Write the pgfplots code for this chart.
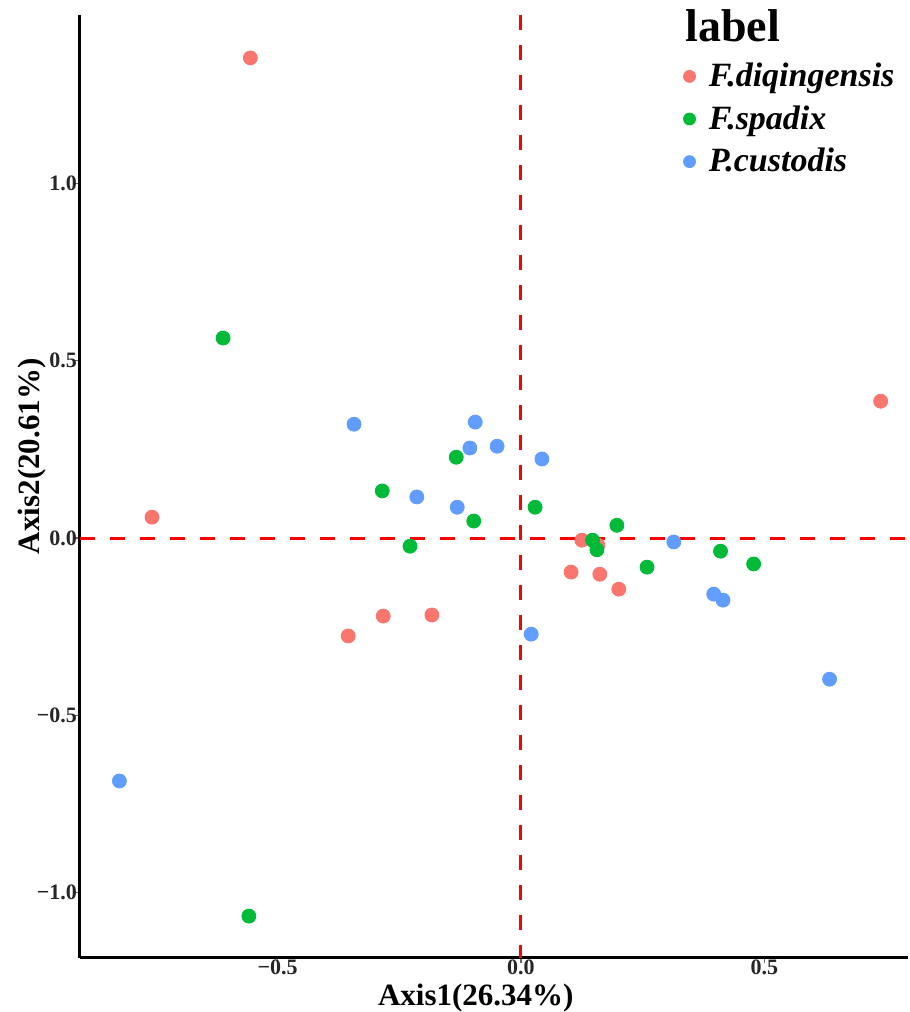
\documentclass[border=0pt]{standalone}
\usepackage{pgfplots}
\pgfplotsset{compat=1.18}
\usepackage{fontspec}
\setmainfont{Liberation Serif}

\definecolor{cred}{HTML}{F8766D}
\definecolor{cgreen}{HTML}{00BA38}
\definecolor{cblue}{HTML}{619CFF}

\begin{document}
\begin{tikzpicture}
\begin{axis}[
    name=ax,
    scale only axis,
    width=414pt, height=471.5pt,
    xmin=-0.906, xmax=0.795,
    ymin=-1.184, ymax=1.475,
    axis lines*=left,
    axis line style={line width=1.5pt, -},
    xtick={-0.5,0,0.5}, xticklabels={−0.5,0.0,0.5},
    ytick={-1,-0.5,0,0.5,1}, yticklabels={−1.0,−0.5,0.0,0.5,1.0},
    tick style={black!60, line width=0.6pt},
    tick align=outside, major tick length=2.5pt,
    ticklabel style={font=\fontsize{11}{12}\selectfont\bfseries, text=black!85},
    xticklabel style={yshift=5pt},
    yticklabel style={xshift=4.5pt},
    xlabel={Axis1(26.34\%)}, ylabel={Axis2(20.61\%)},
    label style={font=\fontsize{15.5}{16}\selectfont\bfseries, inner sep=0pt},
    xlabel style={at={(axis description cs:0.478,-0.0424)}, anchor=center},
    ylabel style={at={(axis description cs:-0.058,0.532)}, anchor=center},
    legend style={at={(rel axis cs:0.728,0.9536)}, anchor=north west, draw=none, fill=none,
        font=\fontsize{17}{19}\selectfont\bfseries\itshape, row sep=4pt,
        inner sep=0pt, nodes={inner xsep=2pt}},
    legend image code/.code={\fill (0.2cm,0cm) circle (3pt); \path (0.2cm+7.5pt,0cm);},
    legend cell align=left,
]
\addplot[red, line width=1.5pt, dash pattern=on 7.5pt off 7.5pt, forget plot] coordinates {(0,1.475) (0,-1.184)};
\addplot[red, line width=1.5pt, dash pattern=on 7.5pt off 7.5pt, forget plot] coordinates {(-0.906,0) (0.795,0)};

\addplot[only marks, mark=*, mark size=3.5pt, color=cred] coordinates {
(-0.556,1.354) (-0.758,0.059) (-0.355,-0.276) (-0.283,-0.220) (-0.183,-0.217)
(0.125,-0.006) (0.158,-0.020) (0.103,-0.096) (0.162,-0.102) (0.201,-0.144) (0.739,0.386)
};
\addlegendentry{F.diqingensis}
\addplot[only marks, mark=*, mark size=3.5pt, color=cgreen] coordinates {
(-0.612,0.564) (-0.559,-1.066) (-0.285,0.133) (-0.228,-0.023) (-0.133,0.228)
(-0.097,0.048) (0.029,0.087) (0.147,-0.006) (0.156,-0.033) (0.197,0.036)
(0.259,-0.082) (0.410,-0.037) (0.478,-0.073)
};
\addlegendentry{F.spadix}
\addplot[only marks, mark=*, mark size=3.5pt, color=cblue] coordinates {
(-0.825,-0.685) (-0.343,0.321) (-0.214,0.116) (-0.131,0.087) (-0.105,0.254)
(-0.094,0.327) (-0.049,0.259) (0.043,0.223) (0.021,-0.271) (0.314,-0.011)
(0.396,-0.158) (0.415,-0.175) (0.634,-0.398)
};
\addlegendentry{P.custodis}

\coordinate (T) at (rel axis cs:0.7307,0.9714);
\coordinate (BL) at (rel axis cs:0,0);
\coordinate (TR) at (rel axis cs:1,1);
\end{axis}
\node[anchor=base west, font=\fontsize{23}{24}\selectfont\bfseries, inner sep=0pt] at (T) {label};
\path ([xshift=-40pt,yshift=-27pt]BL) ([xshift=0.5pt,yshift=7.5pt]TR);
\end{tikzpicture}
\end{document}
